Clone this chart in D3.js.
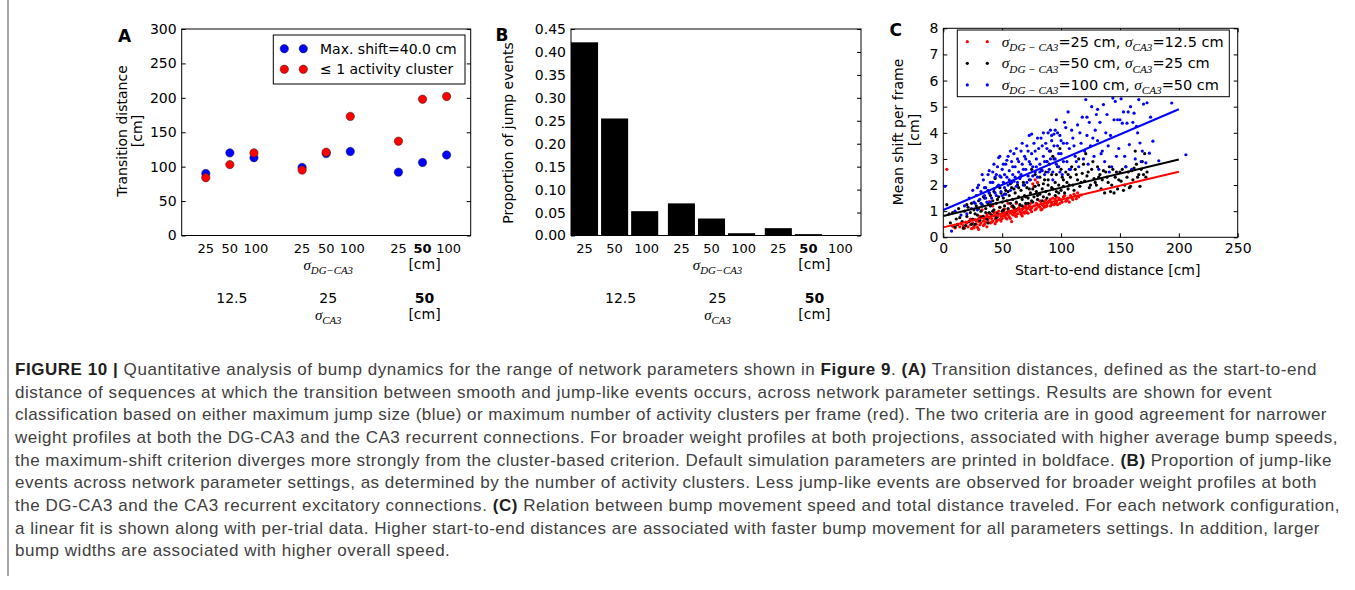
<!DOCTYPE html>
<html>
<head>
<meta charset="utf-8">
<script src="https://cdn.jsdelivr.net/npm/d3@7"></script>
<style>
  body { margin: 0; background: #fff; }
  svg text { font-family: "DejaVu Sans", sans-serif; fill: #000; }
  .math { font-family: "Liberation Serif", "DejaVu Serif", serif; font-style: italic; }
  .cap { font-family: "Liberation Sans", Arial, sans-serif; font-size: 17px; }
  svg text.cap { fill: #404040; }
  .cap .b { font-weight: bold; fill: #1e1e1e; }
</style>
</head>
<body>
<svg id="fig" width="1355" height="590"></svg>
<script>
// parameter settings
var sigmaDG = ['25', '50', '100']
var sigmaCA3 = ['12.5', '25', '50']
var defaultDG = '50'
var defaultCA3 = '50'

// panel A: transition distance [cm], order = CA3 group, then DG
var shiftTransition = [90, 120, 113, 99, 119, 122, 92, 106, 117]
var clusterTransition = [84, 103, 120, 95, 121, 173, 137, 198, 202]
var ticksA = [0, 50, 100, 150, 200, 250, 300]

// panel B: proportion of jump events
var jumpProportion = [0.421, 0.255, 0.053, 0.07, 0.037, 0.005, 0.016, 0.003, 0.0]
var ticksB = [0, 0.05, 0.1, 0.15, 0.2, 0.25, 0.3, 0.35, 0.4, 0.45]

// panel C: start-to-end distance vs mean shift per frame
var ticksCx = [0, 50, 100, 150, 200, 250]
var ticksCy = [0, 1, 2, 3, 4, 5, 6, 7, 8]
var legendDG = ['25', '50', '100']
var legendCA3 = ['12.5', '25', '50']
var fitIntercept = [0.38, 0.815, 1.045]
var fitSlope = [0.01065, 0.01083, 0.01928]
var fitRange = [0, 200]

var pointsRed = [[3,2.6],[8,0.42],[10,0.36],[12,0.48],[14,0.4],[15,0.52],[17,0.45],[18,0.35],[20,0.55],[21,0.4],
  [22,0.62],[23,0.48],[24,0.33],[25,0.55],[26,0.42],[27,0.68],[28,0.5],[29,0.38],[30,0.6],[30,0.72],[31,0.48],
  [32,0.55],[33,0.8],[34,0.62],[35,0.5],[35,0.7],[36,0.58],[37,0.85],[38,0.66],[39,0.75],[40,0.55],[40,0.9],
  [41,0.72],[42,0.62],[43,0.82],[44,0.7],[45,0.95],[45,0.6],[46,0.78],[47,0.88],[48,0.68],[49,0.8],[50,0.92],
  [50,0.72],[51,1.0],[52,0.84],[53,0.75],[54,0.95],[55,0.85],[55,1.05],[56,0.78],[57,0.92],[58,1.0],[59,0.86],
  [60,0.95],[60,1.1],[61,0.82],[62,1.02],[63,0.9],[64,1.12],[65,0.98],[66,0.88],[67,1.05],[68,0.95],[69,1.15],
  [70,1.0],[71,1.08],[72,0.92],[73,1.2],[74,1.05],[75,1.12],[76,2.05],[77,1.95],[78,2.2],[79,1.1],[80,2.1],
  [80,1.25],[82,1.15],[83,1.3],[84,1.08],[85,1.22],[86,1.35],[87,1.18],[88,1.28],[90,1.4],[91,1.2],[92,1.32],
  [94,1.25],[95,1.45],[96,1.35],[98,1.5],[99,1.3],[100,1.42],[102,1.55],[104,1.38],[106,1.5],[108,1.6],
  [110,1.45],[112,1.58],[115,1.55],[117,1.62],[39,1.37],[33,1.05],[48,1.15],[62,1.3],
  [19,0.58],[23,0.7],[26,0.36],[28,0.62],[31,0.8],[34,0.45],[36,0.74],[38,0.92],[41,0.58],[43,0.95],[44,0.52],
  [46,0.66],[47,1.0],[49,0.62],[51,0.82],[52,1.08],[53,0.88],[54,0.7],[56,1.0],[57,0.72],[58,1.18],[59,0.98],
  [61,0.92],[62,0.8],[63,1.08],[65,1.2],[66,0.95],[67,0.82],[68,1.12],[69,0.92],[70,1.22],[71,0.95],[72,1.12],
  [74,1.3],[75,0.98],[77,1.2],[78,1.05],[79,1.3],[81,1.18],[82,1.4],[83,1.05],[84,1.25],[86,1.15],[87,1.42],
  [88,1.2],[89,1.35],[91,1.45],[92,1.25],[93,1.5],[95,1.3],[96,1.55],[97,1.25],[99,1.45],[101,1.35],[103,1.6],
  [105,1.42],[107,1.35],[109,1.52],[111,1.65],[113,1.48],[114,1.7],[42,1.2],[55,1.3],[58,0.6],[30,0.3],[37,0.4]]

var pointsBlack = [[3,1.25],[6,0.55],[8,0.95],[10,0.4],[12,0.5],[14,0.75],[16,0.6],[18,1.0],[19,0.45],[20,0.8],
  [21,1.15],[22,0.6],[23,0.95],[24,1.3],[25,0.7],[26,1.05],[27,0.5],[28,1.2],[29,0.85],[30,1.4],[31,0.65],
  [32,1.0],[33,1.25],[34,0.8],[35,1.5],[36,1.1],[37,0.7],[38,1.3],[39,0.95],[40,1.6],[40,1.2],[41,0.85],
  [42,1.4],[43,1.05],[44,2.25],[45,1.3],[46,0.9],[47,1.55],[48,1.15],[49,1.7],[50,1.35],[50,1.0],[51,1.5],
  [52,1.2],[53,1.8],[54,1.4],[55,1.1],[56,1.6],[57,1.3],[58,1.9],[59,1.45],[60,1.15],[61,1.7],[62,1.35],
  [63,2.0],[64,1.55],[65,1.25],[66,1.8],[67,1.45],[68,2.1],[69,1.6],[70,1.3],[71,1.9],[72,1.5],[73,2.2],
  [74,1.7],[75,1.4],[76,1.85],[77,1.55],[78,2.4],[79,1.75],[80,1.45],[81,2.0],[82,1.65],[83,2.6],[84,1.85],
  [85,1.55],[86,2.2],[87,1.75],[88,2.9],[89,2.0],[90,1.65],[91,3.3],[92,2.4],[93,1.85],[94,3.0],[95,2.1],
  [96,1.75],[97,2.7],[98,2.0],[99,3.4],[100,1.8],[101,2.3],[102,1.95],[104,2.5],[105,2.1],[106,1.85],
  [108,2.3],[110,2.0],[112,2.6],[114,2.2],[115,3.0],[116,1.95],[118,2.45],[120,2.15],[121,3.2],[122,2.35],
  [124,1.9],[126,2.6],[128,2.25],[130,2.0],[131,2.7],[133,2.4],[135,2.2],[137,1.7],[138,2.5],[140,2.1],
  [142,1.75],[144,2.6],[146,2.3],[148,1.85],[150,2.5],[151,2.15],[153,1.8],[155,2.7],[156,2.3],[158,1.9],
  [160,2.55],[161,2.2],[163,3.3],[164,2.8],[166,2.4],[167,1.95],[168,2.6],[170,2.4],[171,3.2],[173,2.5],
  [5,0.9],[11,0.7],[13,1.1],[17,0.35],[20,1.25],[24,0.5],[27,0.9],[30,1.1],[32,0.75],[34,1.55],[36,0.95],
  [38,0.55],[39,1.7],[42,1.0],[43,1.75],[45,0.75],[46,1.45],[48,1.9],[51,1.05],[52,1.65],[54,0.95],[55,1.75],
  [57,2.05],[59,1.2],[60,1.85],[62,1.05],[64,1.9],[65,2.3],[67,1.2],[69,2.0],[70,1.55],[72,1.3],[73,1.85],
  [75,2.6],[76,1.35],[78,1.95],[80,1.6],[82,2.3],[84,1.4],[85,2.05],[87,2.5],[88,1.5],[89,2.2],[90,2.8],
  [92,1.9],[93,3.1],[95,1.6],[96,2.4],[98,1.7],[100,2.6],[102,2.2],[103,1.7],[106,2.4],[107,2.0],[109,2.7],
  [111,1.8],[113,2.4],[117,2.1],[119,2.8],[123,2.5],[125,2.0],[127,2.9],[129,2.1],[132,2.3],[134,1.85],
  [136,2.55],[139,2.3],[141,2.7],[143,2.0],[145,1.7],[147,2.5],[149,2.2],[152,2.6],[154,2.0],[157,2.5],
  [159,1.95],[162,2.65],[165,2.3],[169,2.9],[172,2.3]]

var pointsBlue = [[1.5,1.95],[7,0.24],[10,1.0],[15,0.85],[18,1.2],[20,0.9],[22,1.5],[24,1.1],[25,1.8],[26,1.35],
  [28,1.6],[29,1.05],[30,2.0],[31,1.45],[32,1.75],[33,1.2],[34,2.2],[35,1.6],[36,1.9],[37,1.35],[38,2.4],
  [39,1.7],[40,2.1],[41,1.5],[42,2.5],[43,1.85],[44,2.3],[45,1.6],[46,2.7],[47,2.0],[48,3.1],[48,2.35],
  [49,1.75],[50,2.6],[51,2.1],[52,1.9],[53,2.8],[54,2.3],[55,3.1],[55,2.0],[56,2.55],[57,1.8],[58,2.9],
  [59,2.4],[60,3.2],[60,2.15],[61,2.7],[62,1.95],[63,3.0],[64,2.5],[65,2.25],[66,3.3],[67,2.8],[68,2.0],
  [69,3.1],[70,2.6],[71,3.5],[72,2.35],[73,3.9],[73,2.9],[74,2.2],[75,3.2],[76,2.7],[77,3.6],[78,2.5],
  [79,3.0],[80,2.3],[81,3.4],[82,2.8],[83,3.8],[84,2.55],[85,3.1],[86,2.4],[87,3.6],[88,2.9],[89,4.0],
  [90,3.3],[90,2.6],[91,4.1],[92,3.7],[93,2.5],[94,3.95],[95,3.0],[96,4.5],[97,3.5],[98,2.7],[99,3.9],
  [100,3.2],[101,2.4],[102,3.6],[104,4.2],[105,2.9],[106,4.8],[107,3.4],[108,2.6],[110,3.8],[112,3.1],
  [114,4.3],[115,2.7],[117,3.6],[118,4.6],[120,3.3],[121,5.27],[122,3.9],[123,2.8],[124,4.4],[125,3.5],
  [126,5.0],[128,3.1],[129,4.1],[130,4.7],[131,3.7],[132,2.6],[133,4.4],[135,3.3],[136,5.08],[137,2.9],
  [138,4.0],[140,3.5],[141,2.5],[143,2.7],[144,5.33],[145,4.5],[147,3.1],[148,4.5],[150,4.5],[151,5.3],
  [152,4.37],[153,4.8],[154,3.1],[155,2.7],[156,4.37],[157,4.8],[158,3.55],[160,2.6],[161,4.4],[162,4.75],
  [164,4.25],[166,5.27],[167,3.61],[168,2.9],[170,5.1],[172,2.85],[173,5.15],[175,3.22],[178,3.68],
  [183,2.93],[194,5.14],[206,3.16],
  [27,1.3],[29,1.9],[32,1.3],[33,2.4],[35,1.9],[36,1.5],[38,1.8],[39,2.55],[40,1.35],[42,2.1],[43,2.8],
  [44,1.7],[45,2.4],[46,1.95],[47,3.05],[49,2.3],[50,1.6],[51,2.8],[52,2.4],[53,1.65],[54,2.95],[56,2.2],
  [57,3.3],[58,2.1],[59,2.7],[61,2.3],[62,3.4],[63,2.1],[64,2.9],[66,2.4],[67,3.6],[68,2.6],[70,3.0],
  [71,2.1],[72,3.3],[74,2.8],[75,3.95],[76,2.35],[78,3.3],[79,2.7],[80,3.8],[82,2.5],[84,3.5],[85,4.0],
  [86,2.9],[88,3.4],[89,2.5],[91,3.0],[92,3.9],[93,2.2],[94,3.5],[95,4.1],[96,2.8],[97,4.0],[98,3.2],
  [99,2.5],[100,3.7],[102,2.9],[103,4.4],[105,3.6],[107,2.6],[109,4.1],[111,3.5],[113,2.9],[116,4.0],
  [119,3.0],[122,4.6],[127,3.8],[131,4.9],[134,3.2],[139,4.7],[142,3.9],[146,5.2],[149,3.4],[159,5.0],
  [163,3.0],[165,4.0],[169,3.3],[176,4.6]]

// caption, one entry per printed line; [text, bold]
var captionLines = [
  [['FIGURE 10 |', 1], [' Quantitative analysis of bump dynamics for the range of network parameters shown in ', 0], ['Figure 9', 1], ['. ', 0], ['(A)', 1], [' Transition distances, defined as the start-to-end', 0]],
  [['distance of sequences at which the transition between smooth and jump-like events occurs, across network parameter settings. Results are shown for event', 0]],
  [['classification based on either maximum jump size (blue) or maximum number of activity clusters per frame (red). The two criteria are in good agreement for narrower', 0]],
  [['weight profiles at both the DG-CA3 and the CA3 recurrent connections. For broader weight profiles at both projections, associated with higher average bump speeds,', 0]],
  [['the maximum-shift criterion diverges more strongly from the cluster-based criterion. Default simulation parameters are printed in boldface. ', 0], ['(B)', 1], [' Proportion of jump-like', 0]],
  [['events across network parameter settings, as determined by the number of activity clusters. Less jump-like events are observed for broader weight profiles at both', 0]],
  [['the DG-CA3 and the CA3 recurrent excitatory connections. ', 0], ['(C)', 1], [' Relation between bump movement speed and total distance traveled. For each network configuration,', 0]],
  [['a linear fit is shown along with per-trial data. Higher start-to-end distances are associated with faster bump movement for all parameters settings. In addition, larger', 0]],
  [['bump widths are associated with higher overall speed.', 0]]
]
var captionEnds = [1317, 1272, 1327, 1338, 1332, 1317, 1340, 1320, null]

var svg = d3.select('#fig')
svg.append('rect').attr('width', 1355).attr('height', 590).attr('fill', '#fff')

var blue = '#0000ff'
var red = '#ff0000'

// σ with subscript, mathtext look
function sigma(text, sub, size) {
  text.append('tspan').attr('class', 'math').attr('font-size', size).text('σ')
  text.append('tspan').attr('class', 'math').attr('font-size', size * 0.72)
    .attr('dy', size * 0.28).text(sub)
}

function frameAndTicks(g, x, y, w, h, opts) {
  var yl = g.append('g').call(d3.axisLeft(y).tickValues(opts.yTicks).tickSize(-4).tickSizeOuter(0)
    .tickPadding(5).tickFormat(opts.yFormat))
  yl.select('.domain').remove()
  yl.selectAll('text').attr('font-size', 14).attr('font-family', 'DejaVu Sans').attr('fill', '#000')
  var yr = g.append('g').attr('transform', 'translate(' + w + ',0)')
    .call(d3.axisRight(y).tickValues(opts.yTicks).tickSize(-4).tickSizeOuter(0).tickFormat(''))
  yr.select('.domain').remove()
  if (opts.xTicks) {
    var xb = g.append('g').attr('transform', 'translate(0,' + h + ')')
      .call(d3.axisBottom(x).tickValues(opts.xTicks).tickSize(-4).tickSizeOuter(0).tickPadding(6))
    xb.select('.domain').remove()
    xb.selectAll('text').attr('font-size', 14).attr('font-family', 'DejaVu Sans').attr('fill', '#000')
    var xt = g.append('g').call(d3.axisTop(x).tickValues(opts.xTicks).tickSize(-4).tickSizeOuter(0).tickFormat(''))
    xt.select('.domain').remove()
  }
  g.selectAll('.tick line').attr('stroke', '#000')
}

function groupLabels(g, xpos, yBase, shift) {
  // dg tick labels
  sigmaCA3.forEach(function(ca3, gi) {
    sigmaDG.forEach(function(dg, j) {
      g.append('text').attr('x', xpos(gi, j) + (j === 2 ? 2 : 0)).attr('y', yBase + 5)
        .attr('text-anchor', 'middle').attr('font-size', 13)
        .attr('font-weight', ca3 === defaultCA3 && dg === defaultDG ? 'bold' : null)
        .text(dg)
    })
  })
  var mid = xpos(1, 1) + shift, last = xpos(2, 1) + shift
  var t1 = g.append('text').attr('x', mid).attr('y', yBase + 22).attr('text-anchor', 'middle')
  sigma(t1, 'DG−CA3', 15)
  g.append('text').attr('x', last).attr('y', yBase + 21.5).attr('text-anchor', 'middle')
    .attr('font-size', 14).text('[cm]')
  sigmaCA3.forEach(function(ca3, gi) {
    g.append('text').attr('x', xpos(gi, 1) + shift).attr('y', yBase + 55.5).attr('text-anchor', 'middle')
      .attr('font-size', 14).attr('font-weight', ca3 === defaultCA3 ? 'bold' : null).text(ca3)
  })
  var t2 = g.append('text').attr('x', mid).attr('y', yBase + 72).attr('text-anchor', 'middle')
  sigma(t2, 'CA3', 15)
  g.append('text').attr('x', last).attr('y', yBase + 71.5).attr('text-anchor', 'middle')
    .attr('font-size', 14).text('[cm]')
}

// ---------- panel A ----------
var aL = 181.7, aT = 29, aW = 289, aH = 206.5
var gA = svg.append('g').attr('transform', 'translate(' + aL + ',' + aT + ')')
var xA = d3.scaleLinear().domain([0, 12]).range([0, aW])
var yA = d3.scaleLinear().domain([0, 300]).range([aH, 0])
function slotA(gi, j) { return xA(gi * 4 + j + 1) }

frameAndTicks(gA, xA, yA, aW, aH, { yTicks: ticksA, yFormat: d3.format('d') })

var idxA = d3.range(shiftTransition.length)
gA.selectAll('.shift').data(idxA).enter().append('circle')
  .attr('cx', function(i) { return slotA(Math.floor(i / 3), i % 3) })
  .attr('cy', function(i) { return yA(shiftTransition[i]) })
  .attr('r', 4.2).attr('fill', blue).attr('stroke', '#222').attr('stroke-width', 0.5)
gA.selectAll('.cluster').data(idxA).enter().append('circle')
  .attr('cx', function(i) { return slotA(Math.floor(i / 3), i % 3) })
  .attr('cy', function(i) { return yA(clusterTransition[i]) })
  .attr('r', 4.2).attr('fill', red).attr('stroke', '#222').attr('stroke-width', 0.5)

// legend A
var legA = gA.append('g').attr('transform', 'translate(' + (273.3 - aL) + ',' + (35 - aT) + ')')
legA.append('rect').attr('width', 191.7).attr('height', 49).attr('fill', '#fff').attr('stroke', '#000')
;[[blue, 'Max. shift=40.0 cm'], [red, '≤ 1 activity cluster']].forEach(function(row, k) {
  var yy = 13.7 + k * 20.6
  ;[11, 30].forEach(function(mx) {
    legA.append('circle').attr('cx', mx).attr('cy', yy).attr('r', 4.2).attr('fill', row[0])
      .attr('stroke', '#222').attr('stroke-width', 0.5)
  })
  legA.append('text').attr('x', 46.7).attr('y', yy + 5).attr('font-size', 14).text(row[1])
})
gA.append('rect').attr('width', aW).attr('height', aH).attr('fill', 'none').attr('stroke', '#000')
groupLabels(gA, slotA, aH + 12, 2)

svg.append('text').attr('transform', 'translate(121.7,131) rotate(-90)').attr('text-anchor', 'middle')
  .attr('dy', '0.35em').attr('font-size', 14).text('Transition distance')
svg.append('text').attr('transform', 'translate(137.3,131) rotate(-90)').attr('text-anchor', 'middle')
  .attr('dy', '0.35em').attr('font-size', 14).text('[cm]')
svg.append('text').attr('x', 124.5).attr('y', 41.5).attr('text-anchor', 'middle')
  .attr('font-size', 17).attr('font-weight', 'bold').text('A')

// ---------- panel B ----------
var bL = 571, bT = 29, bW = 290, bH = 206.5
var gB = svg.append('g').attr('transform', 'translate(' + bL + ',' + bT + ')')
var xB0 = d3.scaleBand().domain(sigmaCA3).range([0, 281]).paddingInner(0.1)
var xB1 = d3.scaleBand().domain(sigmaDG).range([0, xB0.bandwidth()]).paddingInner(0.1)
var yB = d3.scaleLinear().domain([0, 0.45]).range([bH, 0])
function slotB(gi, j) { return xB0(sigmaCA3[gi]) + xB1(sigmaDG[j]) + xB1.bandwidth() / 2 }

frameAndTicks(gB, null, yB, bW, bH, { yTicks: ticksB, yFormat: d3.format('.2f') })

gB.selectAll('.bar').data(jumpProportion).enter().append('rect')
  .attr('x', function(d, i) { return xB0(sigmaCA3[Math.floor(i / 3)]) + xB1(sigmaDG[i % 3]) })
  .attr('width', xB1.bandwidth())
  .attr('y', function(d) { return yB(d) })
  .attr('height', function(d) { return bH - yB(d) })
  .attr('fill', '#000')
gB.append('rect').attr('width', bW).attr('height', bH).attr('fill', 'none').attr('stroke', '#000')
groupLabels(gB, slotB, bH + 12, 6)

svg.append('text').attr('transform', 'translate(508,133) rotate(-90)').attr('text-anchor', 'middle')
  .attr('dy', '0.35em').attr('font-size', 14).text('Proportion of jump events')
svg.append('text').attr('x', 502).attr('y', 41).attr('text-anchor', 'middle')
  .attr('font-size', 17).attr('font-weight', 'bold').text('B')

// ---------- panel C ----------
var cL = 943.3, cT = 28.3, cW = 294.4, cH = 209
var gC = svg.append('g').attr('transform', 'translate(' + cL + ',' + cT + ')')
var xC = d3.scaleLinear().domain([0, 250]).range([0, cW])
var yC = d3.scaleLinear().domain([0, 8]).range([cH, 0])

frameAndTicks(gC, xC, yC, cW, cH, { yTicks: ticksCy, yFormat: d3.format('d'), xTicks: ticksCx })

var colorsC = [red, '#000', blue]
;[pointsRed, pointsBlack, pointsBlue].forEach(function(pts, k) {
  gC.append('g').selectAll('circle').data(pts).enter().append('circle')
    .attr('cx', function(d) { return xC(d[0]) })
    .attr('cy', function(d) { return yC(d[1]) })
    .attr('r', 1.6).attr('fill', colorsC[k])
})
var fit = d3.line().x(function(d) { return xC(d[0]) }).y(function(d) { return yC(d[1]) })
fitIntercept.forEach(function(b, k) {
  var seg = fitRange.map(function(x) { return [x, b + fitSlope[k] * x] })
  gC.append('path').datum(seg).attr('d', fit).attr('fill', 'none')
    .attr('stroke', colorsC[k]).attr('stroke-width', 2)
})

var legC = gC.append('g').attr('transform', 'translate(' + (957.3 - cL) + ',' + (30 - cT) + ')')
legC.append('rect').attr('width', 272).attr('height', 66.7).attr('fill', '#fff').attr('stroke', '#000')
legendDG.forEach(function(dg, k) {
  var yy = 11.7 + k * 21.6
  ;[10, 30].forEach(function(mx) {
    legC.append('circle').attr('cx', mx).attr('cy', yy).attr('r', 1.6).attr('fill', colorsC[k])
  })
  var t = legC.append('text').attr('x', 44.4).attr('y', yy + 5).attr('font-size', 14.5)
  sigma(t, 'DG − CA3', 15.5)
  t.append('tspan').attr('dy', -15.5 * 0.28).text('=' + dg + ' cm, ')
  sigma(t, 'CA3', 15.5)
  t.append('tspan').attr('dy', -15.5 * 0.28).text('=' + legendCA3[k] + ' cm')
})
gC.append('rect').attr('width', cW).attr('height', cH).attr('fill', 'none').attr('stroke', '#000')

svg.append('text').attr('x', 1107.7).attr('y', 275).attr('text-anchor', 'middle')
  .attr('font-size', 14).text('Start-to-end distance [cm]')
svg.append('text').attr('transform', 'translate(898.3,132) rotate(-90)').attr('text-anchor', 'middle')
  .attr('dy', '0.35em').attr('font-size', 14).text('Mean shift per frame')
svg.append('text').attr('transform', 'translate(914,130) rotate(-90)').attr('text-anchor', 'middle')
  .attr('dy', '0.35em').attr('font-size', 14).text('[cm]')
svg.append('text').attr('x', 895.7).attr('y', 36).attr('text-anchor', 'middle')
  .attr('font-size', 17).attr('font-weight', 'bold').text('C')

// ---------- caption ----------
svg.append('line').attr('x1', 8).attr('x2', 8).attr('y1', 0).attr('y2', 576)
  .attr('stroke', '#8a8a8a').attr('stroke-width', 1.5)

var capTexts = []
var spacings = []
captionLines.forEach(function(segs, k) {
  var t = svg.append('text').attr('class', 'cap').attr('x', 15).attr('y', 375 + k * 22.65)
  segs.forEach(function(s) {
    t.append('tspan').attr('class', s[1] ? 'b' : null).text(s[0])
  })
  capTexts.push(t)
  if (captionEnds[k]) {
    var natural = t.node().getComputedTextLength()
    var n = t.text().length
    var ls = (captionEnds[k] - 15 - natural) / n
    spacings.push(ls)
    t.attr('letter-spacing', ls)
  }
})
// last (short) line gets the average tracking
capTexts[capTexts.length - 1].attr('letter-spacing', d3.mean(spacings))
</script>
</body>
</html>
